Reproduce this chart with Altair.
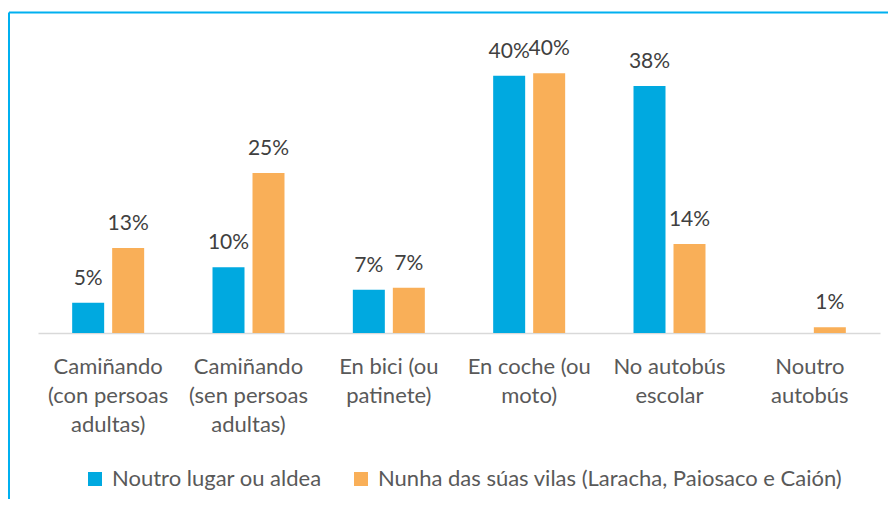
import json
import altair as alt
import pandas as pd

categories = [
    "Camiñando (con persoas adultas)",
    "Camiñando (sen persoas adultas)",
    "En bici (ou patinete)",
    "En coche (ou moto)",
    "No autobús escolar",
    "Noutro autobús",
]
tick_lines = [
    ["Camiñando", "(con persoas", "adultas)"],
    ["Camiñando", "(sen persoas", "adultas)"],
    ["En bici (ou", "patinete)"],
    ["En coche (ou", "moto)"],
    ["No autobús", "escolar"],
    ["Noutro", "autobús"],
]
series = ["Noutro lugar ou aldea", "Nunha das súas vilas (Laracha, Paiosaco e Caión)"]
values_aldea = [0.047, 0.102, 0.067, 0.399, 0.383, None]
values_vilas = [0.132, 0.248, 0.070, 0.403, 0.138, 0.009]
colors = ["#00A9E0", "#F9AF58"]

rows = []
for c, a, v in zip(categories, values_aldea, values_vilas):
    if a is not None:
        rows.append({"cat": c, "series": series[0], "v": a})
    if v is not None:
        rows.append({"cat": c, "series": series[1], "v": v})
df = pd.DataFrame(rows)

label_expr = ""
for c, lines in zip(categories, tick_lines):
    label_expr += f"datum.label == {json.dumps(c, ensure_ascii=False)} ? {json.dumps(lines, ensure_ascii=False)} : "
label_expr += "datum.label"

FONT = "Lato"

x_enc = alt.X(
    "cat:N",
    sort=categories,
    scale=alt.Scale(paddingInner=0.487, paddingOuter=0.2435),
    axis=alt.Axis(
        title=None,
        labelExpr=label_expr,
        labelAngle=0,
        domainColor="#D9D9D9",
        domainWidth=1.5,
        ticks=False,
        labelFont=FONT,
        labelFontSize=22,
        labelColor="#595959",
        labelLineHeight=29,
        labelPadding=23,
        labelLimit=300,
        labelOverlap=False,
        labelBound=False,
    ),
)
xo_enc = alt.XOffset("series:N", sort=series, scale=alt.Scale(paddingInner=0.2, paddingOuter=0))
y_enc = alt.Y("v:Q", scale=alt.Scale(domain=[0, 0.473], nice=False, zero=True), axis=None)

base = alt.Chart(df)

bars = base.mark_bar().encode(
    x=x_enc,
    xOffset=xo_enc,
    y=y_enc,
    color=alt.Color(
        "series:N",
        sort=series,
        scale=alt.Scale(domain=series, range=colors),
        legend=alt.Legend(
            orient="none",
            legendX=46,
            legendY=440,
            direction="horizontal",
            title=None,
            symbolType="square",
            symbolSize=196,
            symbolStrokeWidth=0,
            labelFont=FONT,
            labelFontSize=22,
            labelColor="#595959",
            labelOffset=6,
            columnPadding=28,
            padding=0,
            labelLimit=600,
        ),
    ),
)

texts = base.mark_text(
    baseline="alphabetic", dy=-18, font=FONT, fontSize=21, color="#404040"
).encode(
    x=alt.X("cat:N", sort=categories),
    xOffset=alt.XOffset("series:N", sort=series),
    y=alt.Y("v:Q"),
    text=alt.Text("v:Q", format=".0%"),
)

border_df = pd.DataFrame({"k": [0]})
border_top = alt.Chart(border_df).mark_rule(color="#00B0F0", strokeWidth=2).encode(
    x=alt.value(-29), x2=alt.value(900), y=alt.value(-15.5)
)
border_left = alt.Chart(border_df).mark_rule(color="#00B0F0", strokeWidth=2).encode(
    x=alt.value(-29), y=alt.value(-15.5), y2=alt.value(480)
)

chart = (
    alt.layer(bars, texts, border_top, border_left)
    .properties(
        width=842,
        height=305,
        padding={"left": 30, "top": 20, "right": 8, "bottom": 166},
        autosize=alt.AutoSizeParams(type="none"),
        background="white",
    )
    .configure_view(stroke=None)
)

chart.save("out.html", embed_options={"renderer": "svg", "actions": False})
